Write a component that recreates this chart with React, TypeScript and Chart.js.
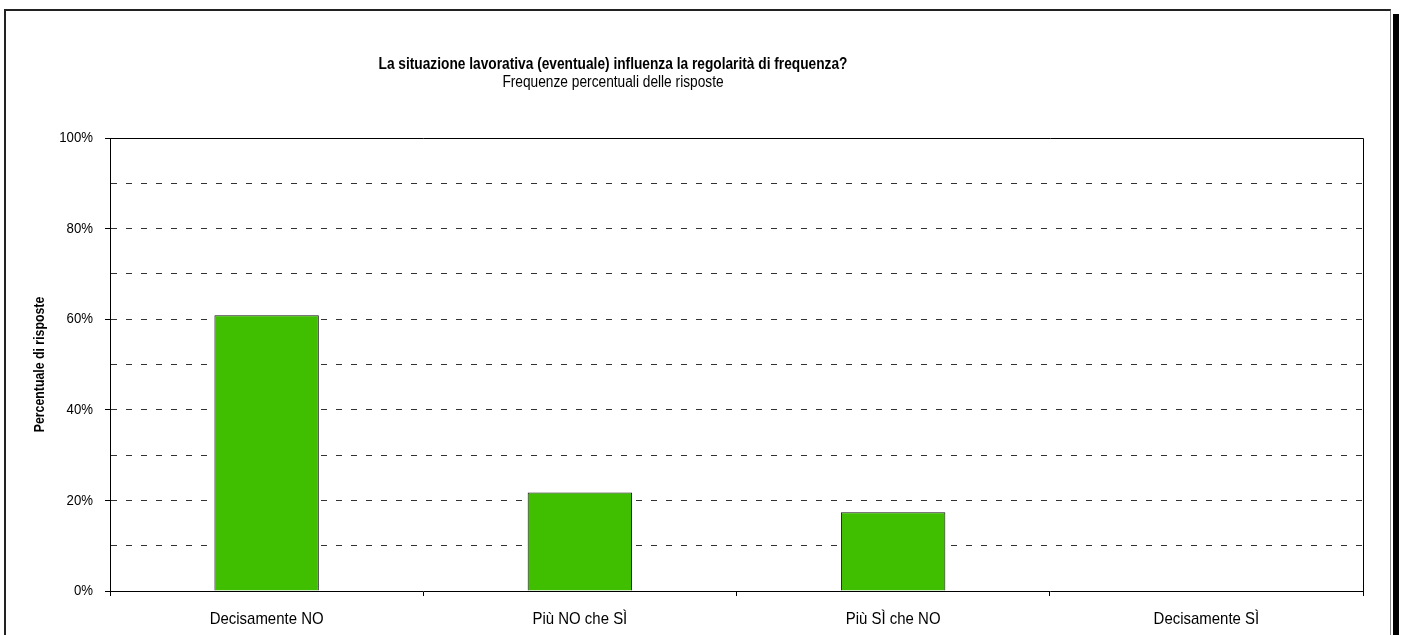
import React, { useEffect, useRef } from 'react';
import { Chart, registerables } from 'chart.js';

Chart.register(...registerables);

const chartTitle = 'La situazione lavorativa (eventuale) influenza la regolarità di frequenza?';
const chartSubtitle = 'Frequenze percentuali delle risposte';
const yAxisTitle = 'Percentuale di risposte';
const categories = ['Decisamente NO', 'Più NO che SÌ', 'Più SÌ che NO', 'Decisamente SÌ'];
const percentages = [60.87, 21.74, 17.39, 0];
const yMajorTicks = [0, 20, 40, 60, 80, 100];

const FONT = "'Liberation Sans', Arial, Helvetica, sans-serif";
const TEXT_SCALE_X = 0.88;
const CANVAS_OFFSET = 137;
const CANVAS_W = 1403 + CANVAS_OFFSET;
const CANVAS_H = 635;

// Draws all chart text slightly condensed horizontally, like the reference rendering.
const condensedText = {
  id: 'condensedText',
  beforeInit(chart: any) {
    const ctx = chart.ctx;
    const orig = ctx.fillText;
    ctx.fillText = function (text: string, x: number, y: number, maxWidth?: number) {
      this.save();
      this.translate(x, y);
      this.scale(TEXT_SCALE_X, 1);
      if (maxWidth !== undefined && maxWidth !== null) {
        orig.call(this, text, 0, 0, maxWidth / TEXT_SCALE_X);
      } else {
        orig.call(this, text, 0, 0);
      }
      this.restore();
    };
  },
};

const align = (v: number) => Math.round(v - 0.5) + 0.5;

const plotBorder = {
  id: 'plotBorder',
  afterDraw(chart: any) {
    const { ctx, chartArea } = chart;
    const t = align(chartArea.top);
    const l = align(chartArea.left);
    const r = align(chartArea.right);
    const b = align(chartArea.bottom);
    ctx.save();
    ctx.strokeStyle = '#000';
    ctx.lineWidth = 1;
    ctx.setLineDash([]);
    ctx.beginPath();
    ctx.moveTo(l, t);
    ctx.lineTo(r, t);
    ctx.lineTo(r, b);
    ctx.stroke();
    ctx.restore();
  },
};

export default function App() {
  const ref = useRef<HTMLCanvasElement | null>(null);

  useEffect(() => {
    if (!ref.current) return;
    const chart = new Chart(ref.current, {
      type: 'bar',
      data: {
        labels: categories,
        datasets: [
          {
            data: percentages,
            backgroundColor: '#3fbf00',
            borderColor: '#111',
            borderWidth: 1,
            barPercentage: 1 / 3,
            categoryPercentage: 1,
          },
        ],
      },
      options: {
        responsive: false,
        animation: false,
        events: [],
        layout: { padding: { left: 0, right: 40, top: 55, bottom: 10 } },
        plugins: {
          legend: { display: false },
          tooltip: { enabled: false },
          title: {
            display: true,
            text: chartTitle,
            color: '#000',
            font: { family: FONT, size: 15.6, weight: 'bold', lineHeight: 1.2 },
            padding: { top: 0, bottom: 0 },
          },
          subtitle: {
            display: true,
            text: chartSubtitle,
            color: '#000',
            font: { family: FONT, size: 15.6, weight: 'normal', lineHeight: 1.2 },
            padding: { top: 0, bottom: 45.56 },
          },
        },
        scales: {
          x: {
            type: 'category',
            offset: true,
            grid: {
              display: true,
              offset: true,
              drawOnChartArea: false,
              drawTicks: true,
              tickLength: 5,
              tickColor: '#000',
            },
            border: { display: true, color: '#000', width: 1 },
            ticks: {
              color: '#000',
              font: { family: FONT, size: 17 },
              padding: 13,
              maxRotation: 0,
              autoSkip: false,
            },
            afterFit(scale: any) {
              scale.height = 34;
            },
          },
          y: {
            min: 0,
            max: 100,
            ticks: {
              stepSize: 10,
              color: '#000',
              font: { family: FONT, size: 15 },
              padding: 12,
              callback: (v: any) => (yMajorTicks.includes(Number(v)) ? `${v}%` : ''),
            },
            grid: {
              color: (ctx: any) => (ctx.tick && ctx.tick.value === 100 ? 'rgba(0,0,0,0)' : '#333'),
              lineWidth: 1,
              tickLength: 5,
              tickColor: (ctx: any) =>
                ctx.tick && yMajorTicks.includes(ctx.tick.value) ? '#000' : 'rgba(0,0,0,0)',
            },
            border: { display: true, color: '#000', width: 1, dash: [6, 9] },
            title: {
              display: true,
              text: yAxisTitle,
              color: '#000',
              font: { family: FONT, size: 14, weight: 'bold', lineHeight: 1.2 },
              padding: { top: 168.6, bottom: 0 },
            },
            afterFit(scale: any) {
              scale.width = 247;
            },
          },
        },
      },
      plugins: [condensedText, plotBorder],
    });
    return () => chart.destroy();
  }, []);

  return (
    <div
      style={{
        position: 'fixed',
        left: 0,
        top: 0,
        width: 1403,
        height: 635,
        overflow: 'hidden',
        background: '#fff',
      }}
    >
      <div
        style={{
          position: 'absolute',
          left: 1393,
          top: 14,
          width: 6,
          height: 700,
          background: '#000',
        }}
      />
      <div
        style={{
          position: 'absolute',
          left: 4,
          top: 9,
          width: 1384,
          height: 700,
          borderLeft: '2px solid #222',
          borderTop: '2px solid #222',
          borderRight: '1px solid #888',
          background: '#fff',
        }}
      />
      <canvas
        ref={ref}
        width={CANVAS_W}
        height={CANVAS_H}
        style={{
          position: 'absolute',
          left: -CANVAS_OFFSET,
          top: 0,
          width: CANVAS_W,
          height: CANVAS_H,
        }}
      />
    </div>
  );
}
